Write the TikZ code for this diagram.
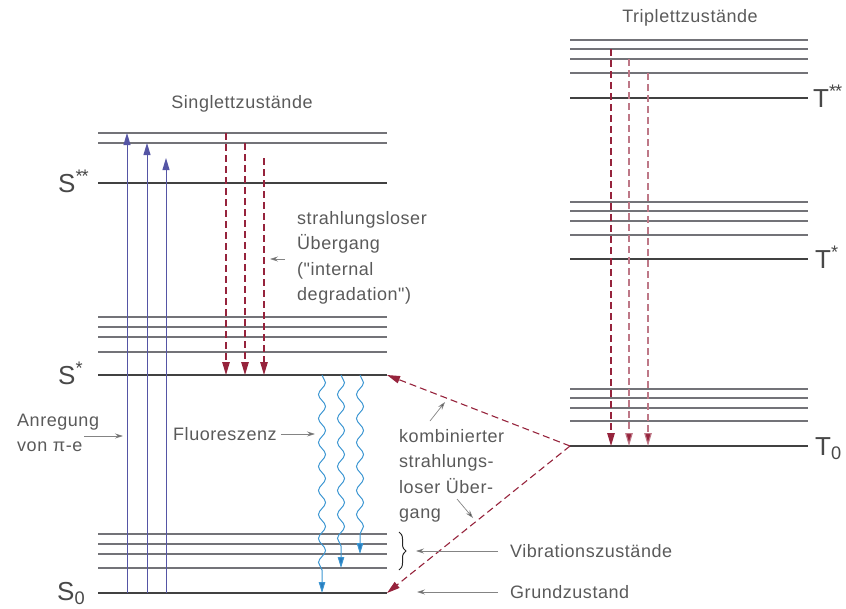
\documentclass[tikz,border=0pt]{standalone}
\usepackage{fontspec}
\setmainfont[LetterSpace=3,Ligatures=TeXOff]{Liberation Sans}
\usetikzlibrary{arrows.meta,decorations.pathmorphing,decorations.pathreplacing}
\definecolor{txt}{RGB}{90,90,90}
\definecolor{lvl}{RGB}{65,65,65}
\definecolor{thinc}{RGB}{115,115,120}
\definecolor{exc}{RGB}{85,85,165}
\definecolor{nrad}{RGB}{150,35,60}
\definecolor{nradl}{RGB}{190,120,135}
\definecolor{fluo}{RGB}{60,150,210}
\definecolor{fluoh}{RGB}{40,125,190}
\definecolor{ptr}{RGB}{50,50,50}
\tikzset{
  thicklvl/.style={lvl,line width=2.6pt},
  thinlvl/.style={thinc,line width=1.1pt},
  excite/.style={exc,line width=1pt,-{Triangle[length=12pt,width=7pt]}},
  nonrad/.style={nrad,line width=1.1pt,dash pattern=on 7pt off 4pt,-{Triangle[length=13pt,width=7.5pt]}},
  nonradl/.style={nradl,line width=1.1pt,dash pattern=on 7pt off 4pt,-{Triangle[length=13pt,width=7.5pt,fill=nrad]}},
  fluor/.style={fluo,line width=1pt,decorate,decoration={snake,amplitude=3.5pt,segment length=24pt,post length=12pt},-{Triangle[length=11pt,width=6.5pt,fill=fluoh]}},
  pointer/.style={ptr!60,line width=0.7pt,-{Stealth[length=8pt,width=5pt,fill=ptr]}},
  lbl/.style={txt,inner sep=0pt,font=\fontsize{18}{25.5}\selectfont},
  lvlname/.style={txt!80!black,inner sep=0pt,font=\fontsize{26}{30}\selectfont}
}
\begin{document}
\begin{tikzpicture}[x=1pt,y=-1pt]
\useasboundingbox (0,0) rectangle (846,608);
% singlet levels
\foreach \y in {133,143,317,327,337,352,534,544,554,568}
  \draw[thinlvl] (98,\y) -- (387,\y);
\draw[thicklvl] (98,183) coordinate (S2L) -- (387,183) coordinate (S2R);
\draw[thicklvl] (98,375) coordinate (S1L) -- (387,375) coordinate (S1R);
\draw[thicklvl] (98,593) coordinate (S0L) -- (387,593) coordinate (S0R);
% triplet levels
\foreach \y in {40,49,59,73,202,211,221,235,389,398,408,421}
  \draw[thinlvl] (570,\y) -- (808,\y);
\draw[thicklvl] (570,98) coordinate (T2L) -- (808,98) coordinate (T2R);
\draw[thicklvl] (570,259) coordinate (T1L) -- (808,259) coordinate (T1R);
\draw[thicklvl] (570,446) coordinate (T0L) -- (808,446) coordinate (T0R);
% level names
\node[lvlname,anchor=base west] (nS2) at (58,192) {S\textsuperscript{*\kern-1pt*}};
\node[lvlname,anchor=base west] (nS1) at (58,384) {S\textsuperscript{*}};
\node[lvlname,anchor=base west] (nS0) at (57,600) {S\textsubscript{0}};
\node[lvlname,anchor=base west] (nT2) at (813,107) {T\textsuperscript{*\kern-1pt*}};
\node[lvlname,anchor=base west] (nT1) at (815,268) {T\textsuperscript{*}};
\node[lvlname,anchor=base west] (nT0) at (815,455) {T\textsubscript{0}};
% titles
\node[lbl] (tS) at (242,104) {Singlettzustände};
\node[lbl] (tT) at (690,18) {Triplettzustände};
% excitation
\draw[excite] (127,593) -- (127,133);
\draw[excite] (147,593) -- (147,143);
\draw[excite] (166,593) -- (166,158);
% internal degradation singlet
\draw[nonrad] (226,133) -- (226,375);
\draw[nonrad] (245,143) -- (245,375);
\draw[nonrad] (264,158) -- (264,375);
% triplet internal degradation
\draw[nonrad] (611,49) -- (611,446);
\draw[nonradl] (629,59) -- (629,446);
\draw[nonradl] (648,73) -- (648,446);
% fluorescence
\draw[fluor] (322,375) -- (322,593);
\draw[fluor] (341,375) -- (341,568);
\draw[fluor] (360,375) -- (360,554);
% combined radiationless
\draw[nonrad] (T0L) -- (S1R);
\draw[nonrad] (T0L) -- (S0R);
% labels
\node[lbl,align=left,anchor=west] (anr) at (17,433) {Anregung\\von π-e};
\coordinate (anrA) at (84,436);
\draw[pointer] (anrA) -- (123,436);
\node[lbl,anchor=west] (fl) at (173,434) {Fluoreszenz};
\draw[pointer] (fl.east) ++(4,0) -- (315,434);
\node[lbl,align=left,anchor=west] (sl) at (297,258) {strahlungsloser\\Übergang\\("internal\\degradation")};
\coordinate (slA) at (285,259);
\draw[pointer] (slA) -- (270,259);
\node[lbl,align=left,anchor=west] (kb) at (399,476) {kombinierter\\strahlungs-\\loser Über-\\gang};
\coordinate (kbA1) at (430,421);
\coordinate (kbB1) at (445,402);
\coordinate (kbA2) at (457,499);
\coordinate (kbB2) at (473,518);
\draw[pointer] (kbA1) -- (kbB1);
\draw[pointer] (kbA2) -- (kbB2);
% brace
\draw[black!85,line width=1pt,decorate,decoration={brace,amplitude=7pt}] (399,532) -- (399,570);
\node[lbl,anchor=west] (vib) at (510,551) {Vibrationszustände};
\draw[pointer] (vib.west) ++(-12,0) -- (416,551);
\node[lbl,anchor=west] (gz) at (510,592) {Grundzustand};
\draw[pointer] (gz.west) ++(-12,0) -- (417,592);
\end{tikzpicture}
\end{document}
